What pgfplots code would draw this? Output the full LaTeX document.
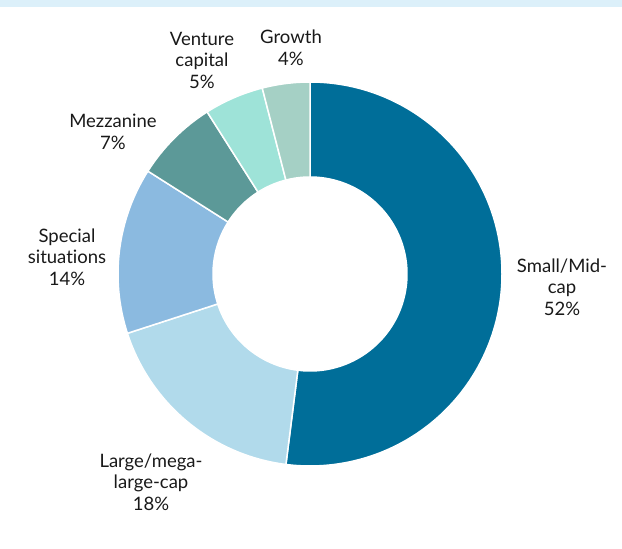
\documentclass[border=0pt]{standalone}
\usepackage{pgfplots}
\pgfplotsset{compat=1.18}
\usepackage{fontspec}
\setmainfont[Ligatures=NoCommon]{Lato}
\definecolor{cSmall}{HTML}{006E99}
\definecolor{cLarge}{HTML}{B1DAEB}
\definecolor{cSpecial}{HTML}{8BBAE0}
\definecolor{cMezz}{HTML}{5C9998}
\definecolor{cVent}{HTML}{9EE3D8}
\definecolor{cGrowth}{HTML}{A5D0C5}
\definecolor{band}{HTML}{DCF0FA}
\begin{document}
\begin{tikzpicture}
\begin{axis}[
  width=622pt, height=549pt, scale only axis,
  xmin=0, xmax=622, ymin=0, ymax=549,
  enlargelimits=false, hide axis, clip=false]
\path (axis cs:0,0) rectangle (axis cs:622,549);
\fill[band] (axis cs:0,542) rectangle (axis cs:622,549);
\def\cx{310}\def\cy{275}\def\ro{192}\def\ri{97}
\xdef\acc{0}
\foreach \v/\c in {52/cSmall,18/cLarge,14/cSpecial,7/cMezz,5/cVent,4/cGrowth}{
  \pgfmathsetmacro\sa{90-3.6*\acc}
  \pgfmathsetmacro\ea{90-3.6*(\acc+\v)}
  \pgfmathsetmacro\xa{\cx+\ro*cos(\sa)}
  \pgfmathsetmacro\ya{\cy+\ro*sin(\sa)}
  \pgfmathsetmacro\xb{\cx+\ri*cos(\ea)}
  \pgfmathsetmacro\yb{\cy+\ri*sin(\ea)}
  \edef\temp{\noexpand\fill[\c, draw=white, line width=1.5pt, line join=round] (axis cs:\xa,\ya) arc[start angle=\sa, end angle=\ea, radius=\ro pt] -- (axis cs:\xb,\yb) arc[start angle=\ea, end angle=\sa, radius=\ri pt] -- cycle;}
  \temp
  \pgfmathsetmacro\nacc{\acc+\v}
  \xdef\acc{\nacc}
}
\begin{scope}[every node/.style={align=center, font=\fontsize{18.5}{21.5}\selectfont, text=black!90}]
\node at (axis cs:562,262) {Small/Mid-\\cap\\52\%};
\node at (axis cs:151,67) {Large/mega-\\large-cap\\18\%};
\node at (axis cs:67,292) {Special\\situations\\14\%};
\node at (axis cs:113,417) {Mezzanine\\7\%};
\node at (axis cs:202,489) {Venture\\capital\\5\%};
\node at (axis cs:291,501) {Growth\\4\%};
\end{scope}
\end{axis}
\end{tikzpicture}
\end{document}
